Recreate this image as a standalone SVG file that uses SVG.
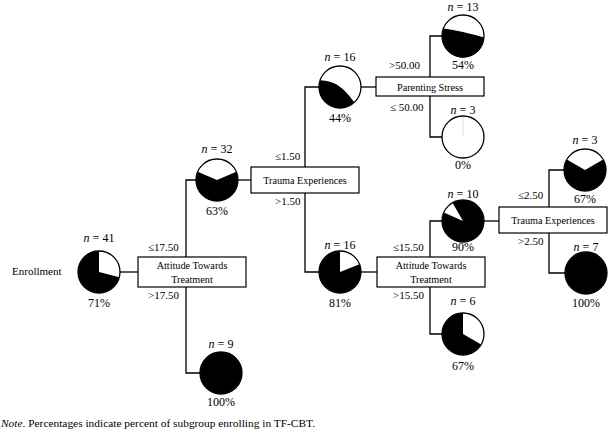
<svg xmlns="http://www.w3.org/2000/svg" width="609" height="439" viewBox="0 0 609 439">
<style>
text{font-family:"Liberation Serif","Times New Roman",serif;fill:#000}
.t{font-size:11px}
.n{font-size:11.4px}
.c{font-size:12px;text-anchor:middle}
.m{font-size:10.2px;text-anchor:middle}
.box{fill:#fff;stroke:#000;stroke-width:1.2}
.ln{fill:none;stroke:#000;stroke-width:1.3}
.blk{fill:#000}
.wht{fill:#fff}
.ol{fill:none;stroke:#000;stroke-width:1.3}
</style>
<rect width="609" height="439" fill="#fff"/>
<g id="connectors">
<path class="ln" d="M120,272 H138"/>
<path class="ln" d="M196,180 H186 V373 H200"/>
<path class="ln" d="M238,180 H251"/>
<path class="ln" d="M319,87 H305 V272 H319"/>
<path class="ln" d="M361,87 H376"/>
<path class="ln" d="M442,36 H430 V137 H442"/>
<path class="ln" d="M361,272 H377"/>
<path class="ln" d="M442,221 H430 V334 H442"/>
<path class="ln" d="M484,221 H499"/>
<path class="ln" d="M564,170 H549 V273 H565"/>
</g>
<g id="labels">
<text class="t" x="12" y="275">Enrollment</text>
<text class="t" x="148" y="251">≤17.50</text>
<text class="t" x="148" y="299">&gt;17.50</text>
<text class="t" x="275" y="160">≤1.50</text>
<text class="t" x="275" y="205">&gt;1.50</text>
<text class="t" x="389" y="69">&gt;50.00</text>
<text class="t" x="390" y="111">≤ 50.00</text>
<text class="t" x="393" y="251">≤15.50</text>
<text class="t" x="393" y="299">&gt;15.50</text>
<text class="t" x="518" y="199">≤2.50</text>
<text class="t" x="518" y="245">&gt;2.50</text>
<text class="n" x="1" y="427"><tspan font-style="italic">Note</tspan>. Percentages indicate percent of subgroup enrolling in TF-CBT.</text>
</g>
<g id="box-attitude-1">
<rect class="box" x="138" y="257" width="108" height="30"/>
<text class="m" x="192" y="268.5">Attitude Towards</text>
<text class="m" x="192" y="282.5">Treatment</text>
</g>
<g id="box-trauma-1">
<rect class="box" x="251" y="167" width="108" height="26"/>
<text class="m" x="305" y="184">Trauma Experiences</text>
</g>
<g id="box-parenting">
<rect class="box" x="376" y="77" width="108" height="19"/>
<text class="m" x="430" y="90.5">Parenting Stress</text>
</g>
<g id="box-attitude-2">
<rect class="box" x="377" y="257" width="108" height="30"/>
<text class="m" x="431" y="268.5">Attitude Towards</text>
<text class="m" x="431" y="282.5">Treatment</text>
</g>
<g id="box-trauma-2">
<rect class="box" x="499" y="207" width="108" height="26"/>
<text class="m" x="553" y="224">Trauma Experiences</text>
</g>
<g id="node-41">
<circle class="blk" cx="99" cy="272" r="21"/>
<path class="wht" d="M99,272 L99,251 A21,21 0 0 1 119.34,277.22 Z"/>
<circle class="ol" cx="99" cy="272" r="21"/>
<text class="c" x="99" y="242"><tspan font-style="italic">n</tspan> = 41</text>
<text class="c" x="99" y="307">71%</text>
</g>
<g id="node-32">
<circle class="blk" cx="217" cy="180" r="21"/>
<path class="wht" d="M217,180 L197.73,171.66 A21,21 0 0 1 236.27,171.66 Z"/>
<circle class="ol" cx="217" cy="180" r="21"/>
<text class="c" x="217" y="153"><tspan font-style="italic">n</tspan> = 32</text>
<text class="c" x="217" y="215">63%</text>
</g>
<g id="node-9">
<circle class="blk" cx="221" cy="373" r="21"/>
<circle class="ol" cx="221" cy="373" r="21"/>
<text class="c" x="221" y="348"><tspan font-style="italic">n</tspan> = 9</text>
<text class="c" x="221" y="406">100%</text>
</g>
<g id="node-16a">
<circle class="wht" cx="340" cy="87" r="21"/>
<path class="blk" d="M320.14,80.16 C334,81 343,86 354.32,102.36 A21,21 0 0 1 320.14,80.16 Z"/>
<circle class="ol" cx="340" cy="87" r="21"/>
<text class="c" x="340" y="61"><tspan font-style="italic">n</tspan> = 16</text>
<text class="c" x="340" y="122">44%</text>
</g>
<g id="node-13">
<circle class="wht" cx="463" cy="36" r="21"/>
<path class="blk" d="M443.6,28.5 Q462,31 484,37.5 A21,21 0 1 1 443.6,28.5 Z"/>
<circle class="ol" cx="463" cy="36" r="21"/>
<text class="c" x="463" y="11"><tspan font-style="italic">n</tspan> = 13</text>
<text class="c" x="463" y="69">54%</text>
</g>
<g id="node-3a">
<circle class="wht" cx="463" cy="137" r="21"/>
<line x1="463" y1="117" x2="463" y2="136" stroke="#ddd" stroke-width="1"/>
<circle class="ol" cx="463" cy="137" r="21"/>
<text class="c" x="463" y="114"><tspan font-style="italic">n</tspan> = 3</text>
<text class="c" x="463" y="169">0%</text>
</g>
<g id="node-16b">
<circle class="blk" cx="340" cy="272" r="21"/>
<path class="wht" d="M340,272 L340,251 A21,21 0 0 1 359.53,264.27 Z"/>
<circle class="ol" cx="340" cy="272" r="21"/>
<text class="c" x="340" y="249"><tspan font-style="italic">n</tspan> = 16</text>
<text class="c" x="340" y="307">81%</text>
</g>
<g id="node-10">
<circle class="blk" cx="463" cy="221" r="21"/>
<path class="wht" d="M463,221 L443.82,212.46 A21,21 0 0 1 452.5,202.81 Z"/>
<circle class="ol" cx="463" cy="221" r="21"/>
<text class="c" x="463" y="198"><tspan font-style="italic">n</tspan> = 10</text>
<text class="c" x="463" y="251">90%</text>
</g>
<g id="node-6">
<circle class="blk" cx="463" cy="334" r="21"/>
<path class="wht" d="M463,334 L463,313 A21,21 0 0 1 481.19,344.5 Z"/>
<circle class="ol" cx="463" cy="334" r="21"/>
<text class="c" x="463" y="305"><tspan font-style="italic">n</tspan> = 6</text>
<text class="c" x="463" y="370">67%</text>
</g>
<g id="node-3b">
<circle class="blk" cx="585" cy="170" r="21"/>
<path class="wht" d="M585,170 L566.81,159.5 A21,21 0 0 1 603.19,159.5 Z"/>
<circle class="ol" cx="585" cy="170" r="21"/>
<text class="c" x="585" y="144"><tspan font-style="italic">n</tspan> = 3</text>
<text class="c" x="585" y="203">67%</text>
</g>
<g id="node-7">
<circle class="blk" cx="586" cy="273" r="21"/>
<circle class="ol" cx="586" cy="273" r="21"/>
<text class="c" x="586" y="251"><tspan font-style="italic">n</tspan> = 7</text>
<text class="c" x="586" y="307">100%</text>
</g>
</svg>
